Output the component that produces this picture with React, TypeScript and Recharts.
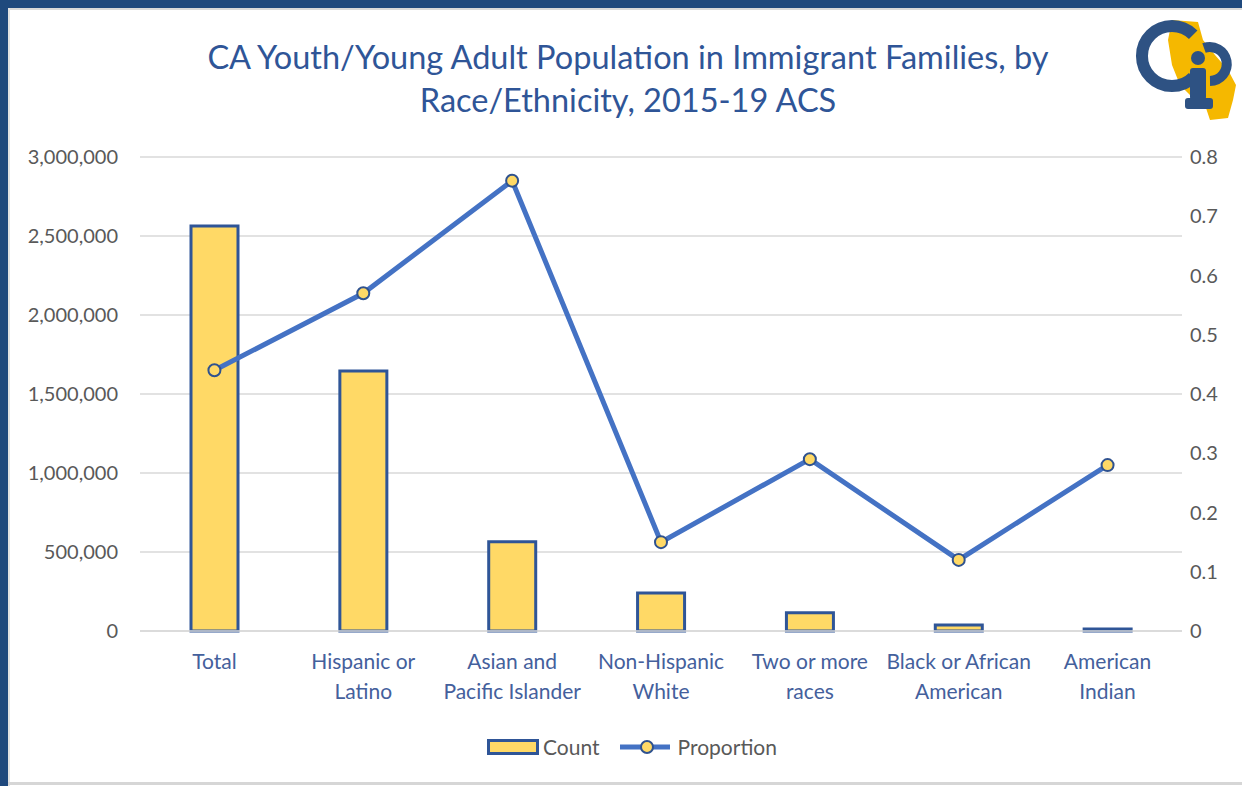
import {
  Bar,
  CartesianGrid,
  ComposedChart,
  Legend,
  Line,
  XAxis,
  YAxis,
} from "recharts";

const categories = [
  "Total",
  "Hispanic or\nLatino",
  "Asian and\nPacific Islander",
  "Non-Hispanic\nWhite",
  "Two or more\nraces",
  "Black or African\nAmerican",
  "American\nIndian",
];
const counts = [2563000, 1645000, 565000, 240000, 115000, 38000, 12000];
const proportions = [0.44, 0.57, 0.76, 0.15, 0.29, 0.12, 0.28];
const countTicks = [0, 500000, 1000000, 1500000, 2000000, 2500000, 3000000];
const propTicks = [0, 0.1, 0.2, 0.3, 0.4, 0.5, 0.6, 0.7, 0.8];

const data = categories.map((name, i) => ({
  name,
  count: counts[i],
  proportion: proportions[i],
}));

const FONT = "Lato, 'Open Sans', sans-serif";
const BAR_FILL = "#FFD966";
const BAR_STROKE = "#2F5597";
const LINE = "#4472C4";
const LOGO_BLUE = "#2E5283";

const CategoryTick = (props: any) => {
  const { x, y, payload } = props;
  const lines = String(payload.value).split("\n");
  return (
    <g transform={`translate(${x},${y})`}>
      {lines.map((l, i) => (
        <text
          key={i}
          x={0}
          y={i * 30}
          dy={30}
          textAnchor="middle"
          fill="#44609C"
          fontSize={21}
          fontFamily={FONT}
        >
          {l}
        </text>
      ))}
    </g>
  );
};

const renderLegend = () => (
  <div
    style={{
      display: "flex",
      alignItems: "center",
      fontFamily: FONT,
      fontSize: 21,
      color: "#595959",
    }}
  >
    <svg width={52} height={16} style={{ marginRight: 4 }}>
      <rect x={1.5} y={1.5} width={49} height={13} fill={BAR_FILL} stroke={BAR_STROKE} strokeWidth={3} />
    </svg>
    <span>Count</span>
    <svg width={50} height={16} style={{ marginLeft: 20, marginRight: 8 }}>
      <line x1={0} y1={8} x2={50} y2={8} stroke={LINE} strokeWidth={5} />
      <circle cx={27} cy={8} r={6} fill={BAR_FILL} stroke="#2F528F" strokeWidth={2} />
    </svg>
    <span>Proportion</span>
  </div>
);

// decorative logo, top right corner
const Logo = () => (
  <svg
    width={112}
    height={120}
    viewBox="0 0 112 120"
    style={{ position: "absolute", left: 1130, top: 10 }}
  >
    <path
      d="M42 10 L68 12 L73 30 L85 45 L98 60 L106 75 L103 90 L98 108 L80 110 L76 98 L65 90 L50 75 L42 55 L38 30 Z"
      fill="#F5B800"
    />
    <path d="M63.2 24.8 A30 30 0 1 0 63.2 67.2" fill="none" stroke={LOGO_BLUE} strokeWidth={12} />
    <path d="M74 38 A17 17 0 1 1 80 71" fill="none" stroke={LOGO_BLUE} strokeWidth={10} />
    <circle cx={68} cy={48} r={7} fill={LOGO_BLUE} />
    <rect x={60} y={58} width={16} height={32} rx={3} fill={LOGO_BLUE} />
    <rect x={55} y={88} width={28} height={11} rx={3} fill={LOGO_BLUE} />
  </svg>
);

export default function App() {
  return (
    <div
      style={{
        position: "absolute",
        left: 0,
        top: 0,
        width: 1242,
        height: 786,
        background: "#fff",
        overflow: "hidden",
      }}
    >
      <div style={{ position: "absolute", left: 0, top: 0, width: 1242, height: 8, background: "#1F497D" }} />
      <div style={{ position: "absolute", left: 8, top: 8, width: 1234, height: 2, background: "#D9D9D9" }} />
      <div style={{ position: "absolute", left: 0, top: 0, width: 8, height: 786, background: "#1F497D" }} />
      <div style={{ position: "absolute", left: 8, top: 8, width: 2, height: 778, background: "#E3E3E3" }} />
      <div style={{ position: "absolute", left: 8, top: 782, width: 1234, height: 3, background: "#D6D6D6" }} />
      <div
        style={{
          position: "absolute",
          left: 0,
          top: 35,
          width: 1256,
          textAlign: "center",
          fontFamily: FONT,
          fontSize: 32.5,
          lineHeight: "43px",
          color: "#2F5597",
        }}
      >
        CA Youth/Young Adult Population in Immigrant Families, by
        <br />
        Race/Ethnicity, 2015-19 ACS
      </div>
      <Logo />
      <div style={{ position: "absolute", left: 0, top: 0 }}>
        <ComposedChart
          width={1242}
          height={786}
          data={data}
          margin={{ top: 157, right: 10, bottom: 125, left: 10 }}
        >
          <CartesianGrid yAxisId="left" vertical={false} stroke="#D9D9D9" strokeWidth={1.5} />
          <XAxis
            dataKey="name"
            interval={0}
            axisLine={{ stroke: "#D9D9D9", strokeWidth: 1.5 }}
            tickLine={false}
            tick={<CategoryTick />}
          />
          <YAxis
            yAxisId="left"
            width={130}
            domain={[0, 3000000]}
            ticks={countTicks}
            interval={0}
            axisLine={false}
            tickLine={false}
            tickSize={0}
            tickMargin={22}
            tickFormatter={(v: number) => v.toLocaleString("en-US")}
            tick={{ fill: "#595959", fontSize: 20, fontFamily: FONT }}
          />
          <YAxis
            yAxisId="right"
            orientation="right"
            width={50}
            domain={[0, 0.8]}
            ticks={propTicks}
            interval={0}
            axisLine={false}
            tickLine={false}
            tickSize={0}
            tickMargin={8}
            tickFormatter={(v: number) => (v === 0 ? "0" : String(Math.round(v * 10) / 10))}
            tick={{ fill: "#595959", fontSize: 20, fontFamily: FONT, textAnchor: "start" }}
          />
          <Legend
            verticalAlign="middle"
            align="center"
            content={renderLegend}
            wrapperStyle={{ position: "absolute", left: 487, top: 734, width: 320, height: 26 }}
          />
          <Bar
            yAxisId="left"
            dataKey="count"
            name="Count"
            barSize={47}
            fill={BAR_FILL}
            stroke={BAR_STROKE}
            strokeWidth={3}
            isAnimationActive={false}
          />
          <Line
            yAxisId="right"
            type="linear"
            dataKey="proportion"
            name="Proportion"
            stroke={LINE}
            strokeWidth={5}
            dot={{ r: 6, fill: BAR_FILL, stroke: "#2F528F", strokeWidth: 2 }}
            activeDot={false}
            isAnimationActive={false}
          />
        </ComposedChart>
      </div>
    </div>
  );
}
